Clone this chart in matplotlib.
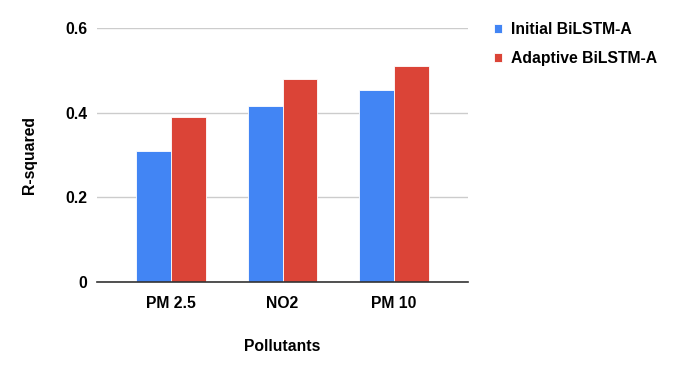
import numpy as np
import matplotlib.pyplot as plt

plt.rcParams["font.family"] = ["Liberation Sans", "DejaVu Sans"]

pollutants = ["PM 2.5", "NO2", "PM 10"]
initial = [0.309, 0.416, 0.453]
adaptive = [0.390, 0.479, 0.510]
yticks = [0, 0.2, 0.4, 0.6]
ytick_labels = ["0", "0.2", "0.4", "0.6"]

BLUE = "#4285F4"
RED = "#DB4437"
FS = 11.3

fig = plt.figure(figsize=(6.8, 3.71), dpi=100)
ax = fig.add_axes([97 / 680, 1 - 282 / 371, (468 - 97) / 680, (282 - 28.3) / 371])

x = np.arange(len(pollutants))
w = 0.315
ax.bar(x - w / 2, initial, width=w, color=BLUE, edgecolor="white", linewidth=0.6,
       label="Initial BiLSTM-A", zorder=3)
ax.bar(x + w / 2, adaptive, width=w, color=RED, edgecolor="white", linewidth=0.6,
       label="Adaptive BiLSTM-A", zorder=3)

ax.set_xlim(-0.67, 2.67)
ax.set_ylim(0, 0.6)
ax.set_yticks(yticks)
ax.set_yticklabels(ytick_labels, fontweight="bold", fontsize=FS)
ax.set_xticks(x)
ax.set_xticklabels(pollutants, fontweight="bold", fontsize=FS)
ax.tick_params(axis="y", length=0, pad=7)
ax.tick_params(axis="x", length=0, pad=10)
ax.yaxis.grid(True, color="#cccccc", linewidth=1, zorder=0)

for side in ["top", "right", "left"]:
    ax.spines[side].set_visible(False)
ax.spines["bottom"].set_color("#333333")
ax.spines["bottom"].set_linewidth(1.2)
ax.spines["bottom"].set_zorder(4)

ax.set_xlabel("Pollutants", fontweight="bold", fontsize=FS, labelpad=20)
ax.set_ylabel("R-squared", fontweight="bold", fontsize=FS, labelpad=20)

leg = ax.legend(loc="upper left", bbox_to_anchor=(480 / 680, 1 - 7.5 / 371),
                bbox_transform=fig.transFigure, frameon=False,
                prop={"weight": "bold", "size": FS}, handlelength=0.51,
                handleheight=0.51, handletextpad=0.57, labelspacing=0.9)

fig.savefig("out.png", dpi=100)
